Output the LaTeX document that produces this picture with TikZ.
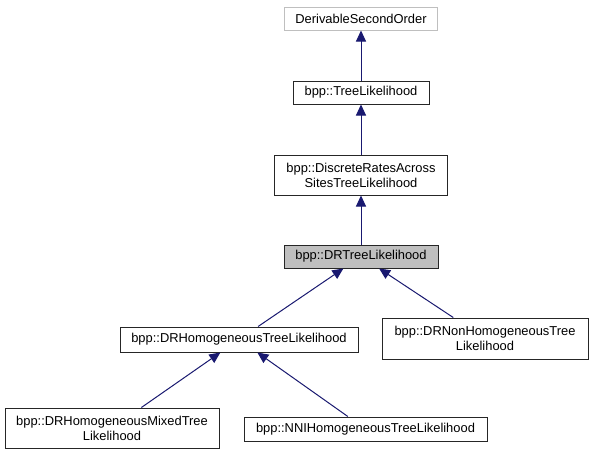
\documentclass[tikz,border=0pt]{standalone}
\usepackage{fontspec}
\setmainfont{Liberation Sans}
\usetikzlibrary{arrows.meta}
\definecolor{edgeblue}{HTML}{191970}
\definecolor{lightborder}{HTML}{BFBFBF}
\definecolor{selfill}{HTML}{BFBFBF}
\tikzset{
  cls/.style={draw=black!85, line width=1pt, fill=white, inner sep=0pt, align=center,
    font=\fontsize{12.9}{15}\selectfont},
  inh/.style={draw=edgeblue, line width=1pt, {Triangle[length=11pt,width=10pt]}-}
}
\begin{document}
\begin{tikzpicture}[x=1pt,y=-1pt]
\useasboundingbox[fill=white] (0,0) rectangle (592,455);
\node[cls, draw=lightborder, minimum width=153pt, minimum height=23pt] (dso) at (361,18.5) {DerivableSecondOrder};
\node[cls, minimum width=136pt, minimum height=23pt] (tl) at (361,92.5) {bpp::TreeLikelihood};
\node[cls, minimum width=173pt, minimum height=40pt] (dra) at (361,175) {bpp::DiscreteRatesAcross\\SitesTreeLikelihood};
\node[cls, fill=selfill, minimum width=154pt, minimum height=23pt] (drt) at (361,256.5) {bpp::DRTreeLikelihood};
\node[cls, minimum width=238pt, minimum height=25pt] (drh) at (239,339.5) {bpp::DRHomogeneousTreeLikelihood};
\node[cls, minimum width=206pt, minimum height=41pt] (drnh) at (485,338.5) {bpp::DRNonHomogeneousTree\\Likelihood};
\node[cls, minimum width=214pt, minimum height=40pt] (drhm) at (112,428) {bpp::DRHomogeneousMixedTree\\Likelihood};
\node[cls, minimum width=243pt, minimum height=24pt] (nni) at (365.5,429) {bpp::NNIHomogeneousTreeLikelihood};
\draw[inh] (dso) -- (tl);
\draw[inh] (tl) -- (dra);
\draw[inh] (dra) -- (drt);
\draw[inh] (drt) -- (drh);
\draw[inh] (drt) -- (drnh);
\draw[inh] (drh) -- (drhm);
\draw[inh] (drh) -- (nni);
\end{tikzpicture}
\end{document}
